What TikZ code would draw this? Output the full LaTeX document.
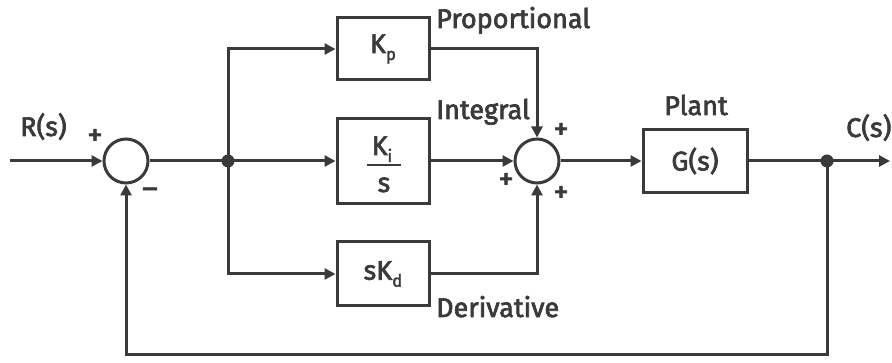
\documentclass[tikz,border=0pt]{standalone}
\usepackage{fontspec}
\setmainfont{Fira Sans}[FakeBold=2.5]
\usetikzlibrary{arrows.meta}
\newcommand{\subtxt}[1]{\raisebox{-7pt}{\fontsize{17}{17}\selectfont #1}}
\definecolor{ink}{HTML}{3A3A3A}
\begin{document}
\begin{tikzpicture}[x=1pt,y=-1pt,
  every node/.style={font=\fontsize{27}{28}\selectfont, text=ink},
  blk/.style={draw=ink, line width=3pt, minimum width=92pt, inner sep=0pt},
  sumnode/.style={draw=ink, line width=3pt, circle, minimum size=44pt, inner sep=0pt},
  sig/.style={draw=ink, line width=3pt, -{Triangle[length=11pt,width=11pt]}},
  wire/.style={draw=ink, line width=3pt},
  dotnode/.style={circle, fill=ink, minimum size=13pt, inner sep=0pt},
  lbl/.style={inner sep=0pt, anchor=base west},
  sgn/.style={inner sep=0pt, font=\fontsize{30}{30}\selectfont}
]
\useasboundingbox (0,0) rectangle (892,363);
% nodes
\node[sumnode] (s1) at (126,161) {};
\node[sumnode] (s2) at (537,161) {};
\node[dotnode] (j1) at (228,161) {};
\node[dotnode] (j2) at (827,161) {};
\node[blk, minimum height=62pt] (kp) at (383,49) {K\subtxt{p}};
\node[blk, minimum height=85pt] (ki) at (383,161) {};
\node[inner sep=0pt, anchor=base] (kin) at (382,155) {K\subtxt{i}};
\draw[draw=ink, line width=2.6pt] (367,165) -- (401,165);
\node[inner sep=0pt, anchor=base] (kis) at (384,192) {s};
\node[blk, minimum height=64pt] (kd) at (383,274) {sK\subtxt{d}};
\node[blk, minimum width=104pt, minimum height=63pt] (g) at (695,161) {G(s)};
\coordinate (in) at (10,161);
\coordinate (out) at (890,161);
\coordinate (fb1) at (827,355);
\coordinate (fb2) at (126,355);
\coordinate (up) at (228,49);
\coordinate (dn) at (228,274);
\coordinate (pr) at (537,49);
\coordinate (dr) at (537,274);
% connectors
\draw[sig] (in) -- (s1.west);
\draw[wire] (s1.east) -- (j1.center);
\draw[sig] (j1.center) -- (ki.west);
\draw[sig] (j1.center) -- (up) -- (kp.west);
\draw[sig] (j1.center) -- (dn) -- (kd.west);
\draw[sig] (kp.east) -- (pr) -- (s2.north);
\draw[sig] (ki.east) -- (s2.west);
\draw[sig] (kd.east) -- (dr) -- (s2.south);
\draw[sig] (s2.east) -- (g.west);
\draw[sig] (g.east) -- (out);
\draw[sig] (j2.center) -- (fb1) -- (fb2) -- (s1.south);
% labels
\node[lbl] (rs) at (20,136) {R(s)};
\node[lbl] (cs) at (846,137) {C(s)};
\node[inner sep=0pt, anchor=base] (pl) at (696,115) {Plant};
\node[lbl] (lp) at (436,28) {Proportional};
\node[lbl] (li) at (436,119) {Integral};
\node[lbl] (ld) at (436,317) {Derivative};
\node[sgn] (p1) at (95,137) {+};
\node[sgn] (m1) at (150,193) {–};
\node[sgn] (p2) at (561,131) {+};
\node[sgn] (p3) at (506,181) {+};
\node[sgn] (p4) at (561,194) {+};
\end{tikzpicture}
\end{document}
